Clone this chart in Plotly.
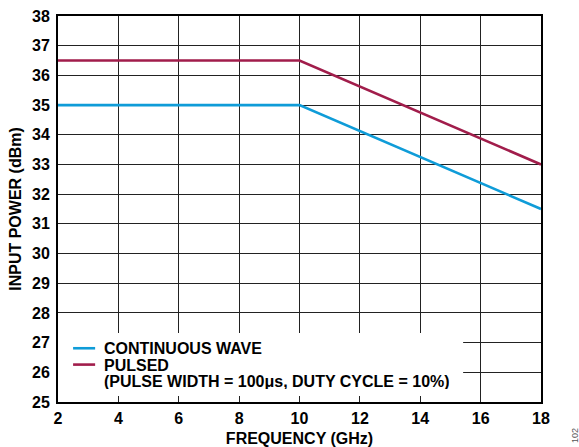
import plotly.graph_objects as go

# Input power vs frequency
freq_ghz = [2, 10, 18]
cw_dbm = [35.0, 35.0, 31.5]
pulsed_dbm = [36.5, 36.5, 33.0]

series_names = ["CONTINUOUS WAVE", "PULSED"]
pulsed_note = "(PULSE WIDTH = 100\u03bcs, DUTY CYCLE = 10%)"
series_colors = ["#0f9cd8", "#a11d4b"]

x_ticks = [2, 4, 6, 8, 10, 12, 14, 16, 18]
y_ticks = list(range(25, 39))

FONT = "Liberation Sans, Arial, sans-serif"
TEXT_FONT = dict(family=FONT, size=16, color="black", weight="bold")

fig = go.Figure()
for name, ys, color in zip(series_names, [cw_dbm, pulsed_dbm], series_colors):
    fig.add_trace(go.Scatter(
        x=freq_ghz, y=ys, mode="lines", name=name,
        line=dict(color=color, width=2.6), showlegend=False,
    ))

# Legend panel drawn inside the plot area
fig.add_shape(type="rect", xref="x", yref="y", x0=2, x1=15.42, y0=25.2, y1=27.32,
              fillcolor="white", line=dict(width=0), layer="between")
legend_rows = [26.81, 26.26, 25.70]
for row_y, color in zip(legend_rows[:2], series_colors):
    fig.add_shape(type="line", xref="x", yref="y", x0=2.5, x1=3.23, y0=row_y, y1=row_y,
                  line=dict(color=color, width=2.6), layer="above")
for row_y, text in zip(legend_rows, series_names + [pulsed_note]):
    fig.add_annotation(x=3.47, y=row_y, xref="x", yref="y", text=text, showarrow=False,
                       xanchor="left", yanchor="middle", height=16,
                       font=TEXT_FONT)

fig.add_annotation(x=1.070, y=-0.086, xref="paper", yref="paper", text="102", showarrow=False,
                   textangle=-90, xanchor="center", yanchor="middle",
                   font=dict(family=FONT, size=9, color="#555"))

axis_common = dict(
    showgrid=True, gridcolor="#222", gridwidth=1.2,
    showline=True, linecolor="black", linewidth=2, mirror=True,
    ticks="", zeroline=False, automargin=False,
    tickfont=TEXT_FONT,
)

fig.update_xaxes(range=[2, 18], tickvals=x_ticks, ticklabelstandoff=1,
                 title=dict(text="FREQUENCY (GHz)", standoff=7, font=TEXT_FONT),
                 **axis_common)
fig.update_yaxes(range=[25, 38], tickvals=y_ticks, ticklabelstandoff=3,
                 title=dict(text="INPUT POWER (dBm)", standoff=6, font=TEXT_FONT),
                 **axis_common)

fig.update_layout(
    width=579, height=447,
    margin=dict(l=58, r=38, t=16, b=45),
    plot_bgcolor="white", paper_bgcolor="white",
    font=dict(family=FONT, color="black"),
)

fig.write_html("out.html")
